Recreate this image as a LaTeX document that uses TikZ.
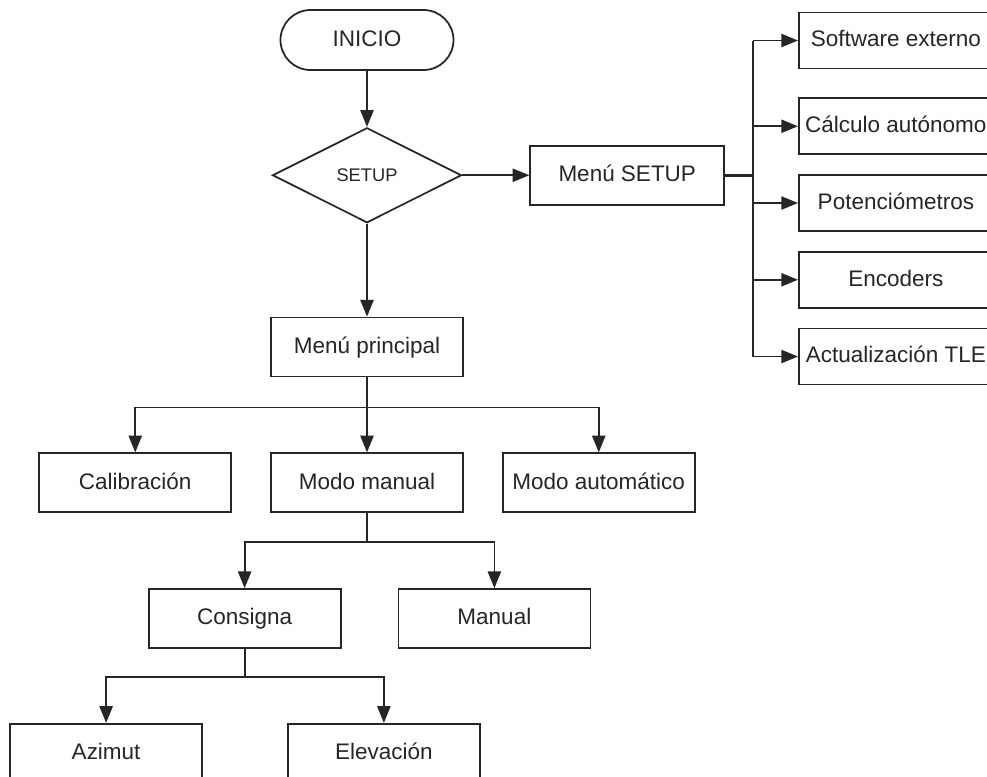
\documentclass[tikz,border=0pt]{standalone}
\usepackage{fontspec}
\setmainfont{Liberation Sans}
\usetikzlibrary{arrows.meta,positioning,calc,shapes.geometric}
\definecolor{lineink}{HTML}{262626}
\tikzset{
  menubox/.style={
    draw=lineink,
    line width=1pt,
    minimum width=3.84cm,
    minimum height=1.18cm,
    inner sep=0pt,
    text height=0.72em,
    text depth=0pt,
    align=center,
    text=lineink,
    font=\fontsize{12.8}{15}\selectfont
  },
  optbox/.style={
    menubox,
    minimum width=3.88cm,
    minimum height=1.12cm
  },
  startbox/.style={
    menubox,
    rounded corners=0.6cm,
    minimum width=3.46cm,
    minimum height=1.2cm
  },
  decision/.style={
    diamond,
    aspect=2,
    draw=lineink,
    line width=1pt,
    minimum width=3.78cm,
    minimum height=1.9cm,
    inner sep=0pt,
    text height=0.72em,
    text depth=0pt,
    text=lineink,
    font=\fontsize{10.4}{12}\selectfont
  },
  arrow/.style={
    -{Triangle[length=9.5pt,width=7.5pt]},
    line width=1pt,
    draw=lineink
  },
  link/.style={
    line width=1pt,
    draw=lineink
  }
}
\begin{document}
\begin{tikzpicture}
\clip (0,0) rectangle (19.74,-15.52);
\fill[white] (0,0) rectangle (19.74,-15.52);
% main column
\node[startbox] (inicio) at (7.34,-0.8) {INICIO};
\node[decision, below=1.12cm of inicio] (setup) {SETUP};
\node[menubox, minimum width=3.88cm, right=1.34cm of setup] (menusetup) {Menú SETUP};
\node[menubox, below=1.86cm of setup] (principal) {Menú principal};
\node[menubox, below=1.5cm of principal] (modomanual) {Modo manual};
\node[menubox, left=0.76cm of modomanual] (calib) {Calibración};
\node[menubox, right=0.76cm of modomanual] (automatico) {Modo automático};
\node[menubox, below=1.5cm of modomanual.south west, xshift=-0.51cm] (consigna) {Consigna};
\node[menubox, right=1.12cm of consigna] (manual) {Manual};
\node[menubox, below=1.48cm of consigna, xshift=-2.77cm] (azimut) {Azimut};
\node[menubox, right=1.68cm of azimut] (elevacion) {Elevación};
% setup options
\node[optbox, anchor=west] (soft) at (15.96,-0.81) {Software externo};
\node[optbox, below=0.56cm of soft] (calc) {Cálculo autónomo};
\node[optbox, below=0.38cm of calc] (pot) {Potenciómetros};
\node[optbox, below=0.38cm of pot] (enc) {Encoders};
\node[optbox, below=0.38cm of enc] (tle) {Actualización TLE};
% connectors
\draw[arrow] (inicio) -- (setup);
\draw[arrow] (setup) -- (menusetup);
\draw[arrow] (setup) -- (principal);
\coordinate[right=0.56cm of menusetup] (bus);
\draw[link, line width=1.5pt] (menusetup) -- (bus);
\draw[link] (bus |- soft) -- (bus |- tle);
\foreach \opt in {soft,calc,pot,enc,tle}
  \draw[arrow] (bus |- \opt) -- (\opt);
\coordinate[below=0.6cm of principal] (split1);
\draw[arrow] (principal) -- (modomanual);
\draw[arrow] (split1) -| (calib);
\draw[arrow] (split1) -| (automatico);
\coordinate[below=0.58cm of modomanual] (split2);
\draw[link] (modomanual) -- (split2);
\draw[arrow] (split2) -| (consigna);
\draw[arrow] (split2) -| (manual);
\coordinate[below=0.56cm of consigna] (split3);
\draw[link] (consigna) -- (split3);
\draw[arrow] (split3) -| (azimut);
\draw[arrow] (split3) -| (elevacion);
\end{tikzpicture}
\end{document}
